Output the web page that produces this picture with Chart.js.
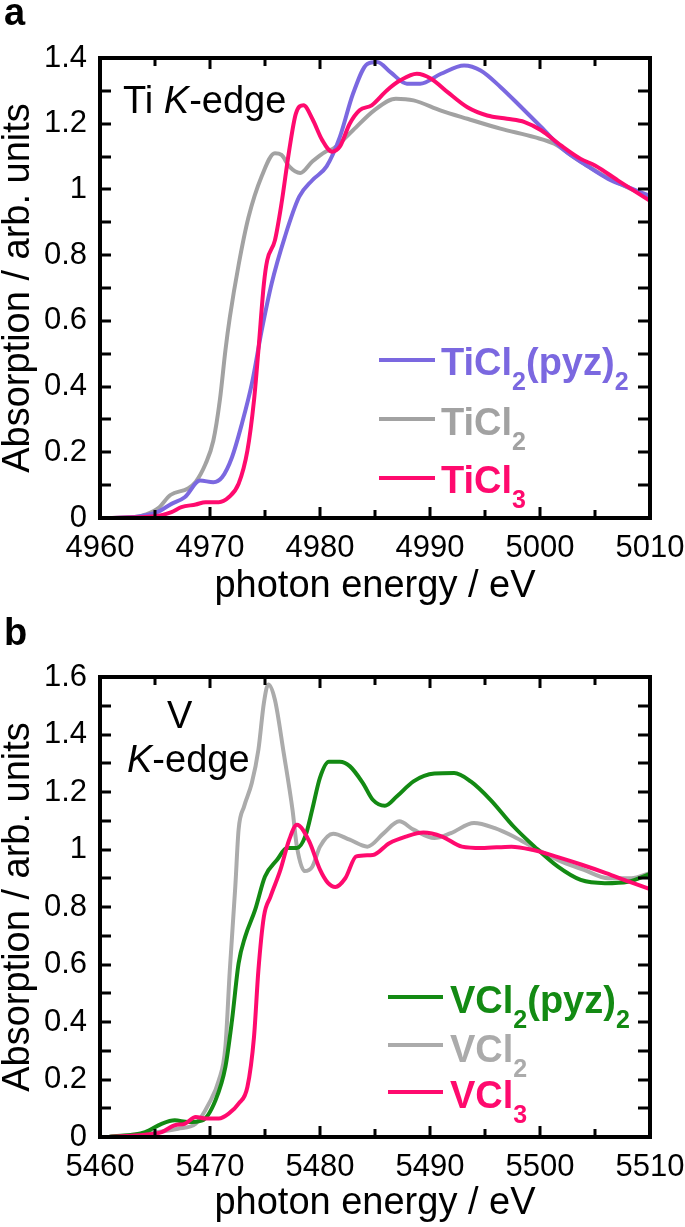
<!DOCTYPE html>
<html>
<head>
    <title>Ti and V K-edge XANES</title>
    <script src="https://cdn.jsdelivr.net/npm/chart.js@4/dist/chart.umd.min.js"></script>
    <style>
        body { margin: 0; background: #fff; }
        .page { position: relative; width: 685px; height: 1227px; }
        #chartA { position: absolute; left: 0; top: 0; }
        #chartB { position: absolute; left: 0; top: 617px; }
    </style>
</head>
<body>
<div class="page">
    <canvas id="chartA" width="685" height="610"></canvas>
    <canvas id="chartB" width="685" height="610"></canvas>
</div>

<script>
    // ---- panel a: Ti K-edge ----
    const tiPyzE = [4960.8, 4963.5, 4965.2, 4966.5, 4967.7, 4969.1, 4970.3, 4971.1, 4972.0, 4972.9, 4973.8, 4974.7, 4975.6, 4976.8, 4978.1, 4979.3, 4980.6, 4981.8, 4983.0, 4984.3, 4985.2, 4986.4, 4987.9, 4989.1, 4991.0, 4993.1, 4994.6, 4996.4, 4998.3, 5000.1, 5002.2, 5004.0, 5006.2, 5008.0, 5010];
    const tiPyzA = [0, 0.005, 0.018, 0.043, 0.063, 0.114, 0.109, 0.124, 0.185, 0.287, 0.408, 0.571, 0.713, 0.855, 0.977, 1.028, 1.07, 1.159, 1.291, 1.382, 1.388, 1.357, 1.322, 1.322, 1.352, 1.377, 1.362, 1.312, 1.250, 1.190, 1.119, 1.078, 1.032, 1.007, 0.980];

    const tiCl2E = [4960.8, 4963.5, 4964.1, 4965.3, 4966.4, 4968.0, 4968.7, 4969.6, 4970.3, 4970.9, 4971.4, 4971.8, 4972.6, 4973.5, 4974.7, 4975.9, 4976.5, 4977.2, 4978.2, 4979.3, 4980.5, 4981.2, 4983.0, 4984.9, 4986.9, 4988.5, 4991.0, 4993.4, 4996.4, 4999.5, 5001.3, 5003.1, 5005.5, 5007.3, 5010];
    const tiCl2A = [0, 0.005, 0.01, 0.03, 0.07, 0.09, 0.11, 0.165, 0.235, 0.36, 0.51, 0.61, 0.77, 0.915, 1.04, 1.11, 1.105, 1.07, 1.05, 1.085, 1.115, 1.124, 1.18, 1.24, 1.276, 1.271, 1.24, 1.215, 1.185, 1.159, 1.139, 1.098, 1.048, 1.017, 0.975];

    const tiCl3E = [4960.8, 4965.0, 4966.5, 4967.4, 4968.7, 4969.6, 4970.8, 4971.7, 4972.6, 4973.4, 4974.0, 4974.4, 4974.9, 4975.2, 4975.9, 4976.5, 4977.2, 4977.8, 4978.5, 4979.3, 4980.2, 4981.1, 4981.8, 4982.7, 4983.6, 4984.7, 4986.1, 4987.3, 4988.8, 4990.1, 4991.6, 4993.4, 4995.2, 4997.0, 4998.6, 5000.1, 5001.9, 5003.7, 5005.0, 5007.1, 5010];
    const tiCl3A = [0, 0.005, 0.018, 0.033, 0.041, 0.048, 0.048, 0.063, 0.104, 0.205, 0.358, 0.51, 0.713, 0.784, 0.845, 0.957, 1.119, 1.23, 1.256, 1.215, 1.15, 1.115, 1.13, 1.2, 1.241, 1.256, 1.302, 1.332, 1.352, 1.337, 1.296, 1.250, 1.225, 1.215, 1.205, 1.180, 1.134, 1.093, 1.073, 1.027, 0.965];

    // ---- panel b: V K-edge ----
    const vPyzE = [5460.8, 5464.1, 5465.6, 5466.8, 5468.0, 5469.3, 5470.5, 5471.4, 5472.0, 5472.6, 5473.2, 5474.1, 5475.0, 5476.1, 5477.0, 5477.9, 5478.7, 5479.3, 5480.0, 5480.8, 5481.8, 5482.7, 5483.9, 5484.8, 5485.9, 5487.0, 5488.5, 5490.4, 5492.2, 5493.7, 5495.5, 5497.6, 5499.5, 5501.6, 5503.7, 5505.9, 5508.0, 5510];
    const vPyzA = [0, 0.017, 0.046, 0.058, 0.052, 0.058, 0.128, 0.244, 0.406, 0.604, 0.697, 0.79, 0.906, 0.964, 1.005, 1.005, 1.05, 1.14, 1.25, 1.305, 1.305, 1.29, 1.231, 1.173, 1.152, 1.185, 1.237, 1.264, 1.266, 1.237, 1.173, 1.08, 1.01, 0.941, 0.894, 0.883, 0.888, 0.915];

    const vCl2E = [5460.8, 5464.1, 5467.1, 5468.7, 5469.9, 5470.8, 5471.4, 5471.8, 5472.3, 5472.6, 5473.1, 5473.8, 5474.4, 5474.9, 5475.3, 5475.9, 5476.7, 5477.5, 5477.9, 5478.6, 5479.3, 5480.0, 5481.2, 5482.7, 5484.3, 5485.8, 5487.2, 5488.5, 5490.4, 5491.9, 5494.0, 5495.9, 5497.6, 5499.5, 5501.6, 5504.0, 5506.2, 5508.3, 5510];
    const vCl2A = [0, 0.012, 0.029, 0.046, 0.116, 0.197, 0.314, 0.58, 0.871, 1.069, 1.15, 1.231, 1.347, 1.51, 1.574, 1.521, 1.336, 1.138, 1.01, 0.925, 0.94, 1.01, 1.055, 1.034, 1.01, 1.057, 1.098, 1.069, 1.04, 1.057, 1.092, 1.074, 1.045, 1.005, 0.964, 0.929, 0.9, 0.9, 0.918];

    const vCl3E = [5460.8, 5464.1, 5465.6, 5466.8, 5467.7, 5468.7, 5469.6, 5470.8, 5471.7, 5472.6, 5473.4, 5474.0, 5474.4, 5474.9, 5475.5, 5476.4, 5477.2, 5477.9, 5479.0, 5480.0, 5480.7, 5481.4, 5482.3, 5483.3, 5484.8, 5486.3, 5487.8, 5489.4, 5491.1, 5492.9, 5494.7, 5497.4, 5499.3, 5501.4, 5503.8, 5506.0, 5508.1, 5510];
    const vCl3A = [0, 0.008, 0.017, 0.041, 0.046, 0.07, 0.064, 0.064, 0.081, 0.116, 0.174, 0.348, 0.58, 0.767, 0.836, 0.929, 1.034, 1.086, 1.03, 0.93, 0.885, 0.870, 0.9, 0.976, 0.981, 1.022, 1.045, 1.059, 1.045, 1.01, 1.005, 1.01, 0.999, 0.976, 0.947, 0.918, 0.888, 0.862];

    const PINK = '#ff0a6e';
    const PURPLE = '#7b68e0';
    const GRAY_TI = '#a2a2a2';
    const GRAY_V = '#ababab';
    const GREEN = '#138a13';

    Chart.defaults.font.family = '"Liberation Sans", Arial, Helvetica, sans-serif';
    Chart.defaults.color = '#000';

    function toPoints(xs, ys) {
        return xs.map((x, i) => ({x: x, y: ys[i]}));
    }

    function line(label, xs, ys, color) {
        return {
            label: label,
            data: toPoints(xs, ys),
            borderColor: color,
            borderWidth: 4,
            pointRadius: 0,
            fill: false,
            cubicInterpolationMode: 'monotone'
        };
    }

    // draws text pieces, sub pieces are lowered and smaller
    function drawRich(ctx, x, y, parts, size, subSize, style) {
        parts.forEach(p => {
            const isSub = p[1] === 'sub';
            const isItalic = p[1] === 'i';
            const fs = isSub ? subSize : size;
            ctx.font = (isItalic ? 'italic ' : '') + style + ' ' + fs + 'px "Liberation Sans", Arial, sans-serif';
            ctx.fillText(p[0], x, isSub ? y + 15 : y);
            x += ctx.measureText(p[0]).width;
        });
    }

    // inward ticks on all four sides plus the box
    const frameTicks = {
        id: 'frameTicks',
        afterDraw(chart) {
            const ctx = chart.ctx;
            const a = chart.chartArea;
            const sx = chart.scales.x;
            const sy = chart.scales.y;
            const w = 3;
            ctx.save();
            ctx.fillStyle = '#000';
            for (let i = 0; i <= 10; i++) {
                const px = Math.round(sx.getPixelForValue(sx.min + i * 5));
                const len = i % 2 === 0 ? 11 : 8;
                ctx.fillRect(px - w / 2, a.bottom - len, w, len);
                ctx.fillRect(px - w / 2, a.top, w, len);
            }
            const nY = Math.round(sy.max * 10);
            for (let i = 0; i <= nY; i++) {
                const py = Math.round(sy.getPixelForValue(i / 10));
                ctx.fillRect(a.left, py - w / 2, 11, w);
                ctx.fillRect(a.right - 12, py - w / 2, 12, w);
            }
            ctx.strokeStyle = '#000';
            ctx.lineWidth = 4;
            ctx.strokeRect(a.left, a.top, a.right - a.left, a.bottom - a.top);
            ctx.restore();
        }
    };

    // panel letter, edge note and legend
    const annotations = {
        id: 'annotations',
        afterDraw(chart, args, opts) {
            const ctx = chart.ctx;
            ctx.save();
            ctx.textBaseline = 'alphabetic';
            ctx.fillStyle = '#000';
            ctx.font = 'bold 38px "Liberation Sans", Arial, sans-serif';
            ctx.fillText(opts.letter, 4, opts.letterY);
            opts.notes.forEach(n => {
                ctx.fillStyle = '#000';
                drawRich(ctx, n.x, n.y, n.parts, 38, 25, 'normal');
            });
            opts.legend.forEach(l => {
                ctx.strokeStyle = l.color;
                ctx.lineWidth = 4;
                ctx.beginPath();
                ctx.moveTo(opts.swatchX[0], l.y);
                ctx.lineTo(opts.swatchX[1], l.y);
                ctx.stroke();
                ctx.fillStyle = l.color;
                drawRich(ctx, opts.textX, l.base, l.parts, 38, 25, 'bold');
            });
            ctx.restore();
        }
    };

    function yLabel(v) {
        const r = Math.round(v * 10);
        return r % 2 === 0 ? String(r / 10) : '';
    }

    function makeChart(id, datasets, xMin, yMax, padTop, xAxisH, annot) {
        return new Chart(document.getElementById(id).getContext('2d'), {
            type: 'line',
            data: {datasets: datasets},
            options: {
                responsive: false,
                animation: false,
                devicePixelRatio: 1,
                layout: {padding: {top: padTop, right: 35, left: 0, bottom: 0}},
                plugins: {
                    legend: {display: false},
                    tooltip: {enabled: false},
                    annotations: annot
                },
                scales: {
                    x: {
                        type: 'linear',
                        min: xMin,
                        max: xMin + 50,
                        grid: {display: false, drawTicks: false},
                        border: {display: false},
                        ticks: {
                            stepSize: 5,
                            autoSkip: false,
                            maxRotation: 0,
                            padding: 12,
                            font: {size: 31},
                            callback: v => (v % 10 === 0 ? String(v) : '')
                        },
                        title: {
                            display: true,
                            text: 'photon energy / eV',
                            font: {size: 38, lineHeight: 1},
                            padding: {top: 0, bottom: 4}
                        },
                        afterFit: s => {
                            s.height = xAxisH;
                            s.paddingLeft = 0;
                            s.paddingRight = 0;
                        }
                    },
                    y: {
                        min: 0,
                        max: yMax,
                        grid: {display: false, drawTicks: false},
                        border: {display: false},
                        ticks: {
                            stepSize: 0.1,
                            autoSkip: false,
                            padding: 13,
                            font: {size: 31},
                            callback: yLabel
                        },
                        title: {
                            display: true,
                            text: 'Absorption / arb. units',
                            font: {size: 38, lineHeight: 1},
                            padding: {top: 0, bottom: 0}
                        },
                        afterFit: s => {
                            s.width = 100;
                            s.paddingTop = 0;
                            s.paddingBottom = 0;
                        }
                    }
                }
            },
            plugins: [frameTicks, annotations]
        });
    }

    const chartA = makeChart('chartA', [
        line('TiCl3', tiCl3E, tiCl3A, PINK),
        line('TiCl2(pyz)2', tiPyzE, tiPyzA, PURPLE),
        line('TiCl2', tiCl2E, tiCl2A, GRAY_TI)
    ], 4960, 1.4, 58, 92, {
        letter: 'a',
        letterY: 25,
        notes: [{x: 123, y: 113, parts: [['Ti '], ['K', 'i'], ['-edge']]}],
        swatchX: [379, 435],
        textX: 441,
        legend: [
            {color: PURPLE, y: 360, base: 375, parts: [['TiCl'], ['2', 'sub'], ['(pyz)'], ['2', 'sub']]},
            {color: GRAY_TI, y: 419, base: 435, parts: [['TiCl'], ['2', 'sub']]},
            {color: PINK, y: 478, base: 493, parts: [['TiCl'], ['3', 'sub']]}
        ]
    });

    const chartB = makeChart('chartB', [
        line('VCl3', vCl3E, vCl3A, PINK),
        line('VCl2(pyz)2', vPyzE, vPyzA, GREEN),
        line('VCl2', vCl2E, vCl2A, GRAY_V)
    ], 5460, 1.6, 60, 90, {
        letter: 'b',
        letterY: 28,
        notes: [
            {x: 167, y: 111, parts: [['V']]},
            {x: 127, y: 155, parts: [['K', 'i'], ['-edge']]}
        ],
        swatchX: [388, 443],
        textX: 450,
        legend: [
            {color: GREEN, y: 380, base: 396, parts: [['VCl'], ['2', 'sub'], ['(pyz)'], ['2', 'sub']]},
            {color: GRAY_V, y: 428, base: 445, parts: [['VCl'], ['2', 'sub']]},
            {color: PINK, y: 475, base: 491, parts: [['VCl'], ['3', 'sub']]}
        ]
    });
</script>
</body>
</html>
